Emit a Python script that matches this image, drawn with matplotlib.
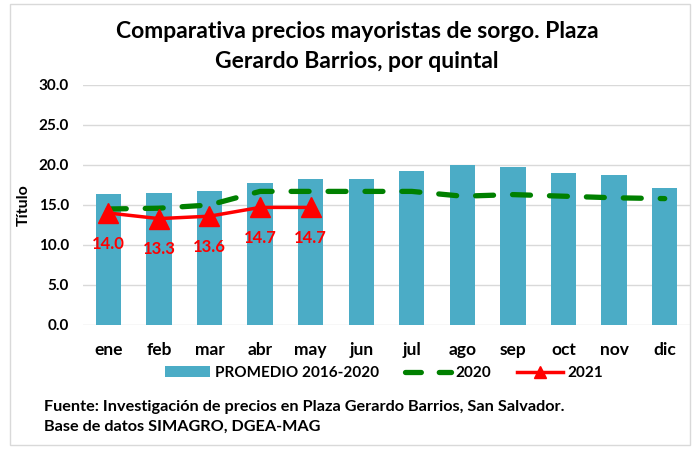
import numpy as np
import matplotlib.pyplot as plt
from matplotlib.patches import Rectangle, Patch
from matplotlib.lines import Line2D

plt.rcParams['font.family'] = ['Lato', 'DejaVu Sans']

meses = ["ene", "feb", "mar", "abr", "may", "jun",
         "jul", "ago", "sep", "oct", "nov", "dic"]
promedio = [16.4, 16.5, 16.7, 17.7, 18.2, 18.2,
            19.25, 20.05, 19.75, 19.0, 18.7, 17.1]
precios_2020 = [14.5, 14.6, 15.0, 16.7, 16.7, 16.7,
                16.7, 16.1, 16.3, 16.1, 15.9, 15.8]
precios_2021 = [14.0, 13.3, 13.6, 14.7, 14.7]

fig = plt.figure(figsize=(6.94, 4.5), dpi=100)
ax = fig.add_axes([83 / 694, 1 - 325 / 450, 607 / 694, 240 / 450])

x = np.arange(len(meses))
ax.bar(x, promedio, width=0.5, color="#4BACC6", zorder=2)
ax.plot(x, precios_2020, color="#008000", linewidth=3.8,
        linestyle=(0, (3.4, 3.6)), dash_capstyle="round", zorder=3)
x21 = x[:len(precios_2021)]
ax.plot(x21, precios_2021, color="#FF0000", linewidth=2.5, marker="^",
        markersize=14, zorder=4)

for xi, v in zip(x21, precios_2021):
    ax.annotate(f"{v:.1f}", (xi, v), xytext=(0, -22), textcoords="offset points",
                ha="center", va="center", color="#FF0000", fontsize=12,
                fontweight="bold", zorder=5)

ax.set_xlim(-0.5, 11.5)
ax.set_ylim(0, 30)
ax.set_yticks(np.arange(0, 31, 5))
ax.set_yticklabels([f"{v:.1f}" for v in np.arange(0, 31, 5)],
                   fontsize=11, fontweight="bold")
ax.set_xticks(x)
ax.set_xticklabels(meses, fontsize=12.5, fontweight="bold")
ax.tick_params(axis="both", length=0)
ax.tick_params(axis="x", pad=12)
ax.tick_params(axis="y", pad=10)
ax.grid(axis="y", color="#D9D9D9", linewidth=1, zorder=0)
for s in ax.spines.values():
    s.set_visible(False)
ax.set_ylabel("Título", fontsize=11.5, fontweight="bold", labelpad=6)

fig.text(357 / 694, 1 - 32 / 450, "Comparativa precios mayoristas de sorgo. Plaza",
         ha="center", va="center", fontsize=16.5, fontweight="bold")
fig.text(357 / 694, 1 - 62 / 450, "Gerardo Barrios, por quintal",
         ha="center", va="center", fontsize=16.5, fontweight="bold")

handles = [
    Patch(facecolor="#4BACC6"),
    Line2D([], [], color="#008000", linewidth=3.8,
           linestyle=(0, (3.0, 3.4)), dash_capstyle="round"),
    Line2D([], [], color="#FF0000", linewidth=2.5, marker="^", markersize=8),
]
fig.legend(handles, ["PROMEDIO 2016-2020", "2020", "2021"],
           loc="center", bbox_to_anchor=(384 / 694, 1 - 373 / 450), ncol=3,
           frameon=False, handlelength=3.0, columnspacing=1.7,
           handletextpad=0.3, prop={"weight": "bold", "size": 11})

fig.text(44 / 694, 1 - 407 / 450,
         "Fuente: Investigación de precios en Plaza Gerardo Barrios, San Salvador.",
         ha="left", va="center", fontsize=11.7, fontweight="bold")
fig.text(44 / 694, 1 - 427 / 450, "Base de datos SIMAGRO, DGEA-MAG",
         ha="left", va="center", fontsize=11.7, fontweight="bold")

fig.patches.append(Rectangle((10 / 694, 1 - 445 / 450), 680 / 694, 441 / 450,
                             transform=fig.transFigure, fill=False,
                             edgecolor="#D9D9D9", linewidth=1))

fig.savefig("out.png", dpi=100)
